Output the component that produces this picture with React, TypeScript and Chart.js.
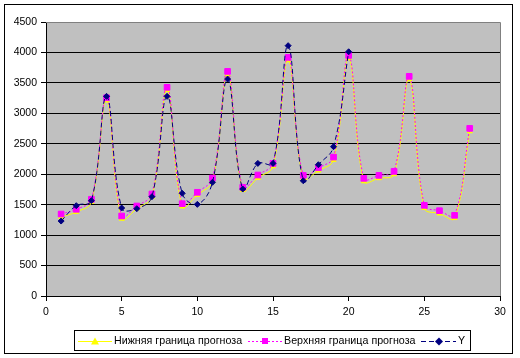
import { useEffect, useRef } from "react";
import { Chart, registerables } from "chart.js";

Chart.register(...registerables);

const xValues = [1, 2, 3, 4, 5, 6, 7, 8, 9, 10, 11, 12, 13, 14, 15, 16, 17, 18, 19, 20, 21, 22, 23, 24, 25, 26, 27, 28];
const lowerBound = [1300, 1380, 1545, 3210, 1270, 1435, 1630, 3380, 1470, 1660, 1890, 3640, 1740, 1940, 2130, 3870, 1935, 2060, 2235, 3905, 1885, 1935, 2000, 3560, 1445, 1355, 1280, 2705];
const upperBound = [1346, 1424, 1588, 3256, 1314, 1478, 1675, 3427, 1516, 1703, 1938, 3689, 1785, 1987, 2178, 3919, 1981, 2107, 2282, 3951, 1932, 1981, 2047, 3607, 1489, 1401, 1325, 2753];
const yValues = [1231, 1483, 1565, 3279, 1445, 1434, 1631, 3279, 1686, 1505, 1867, 3563, 1757, 2178, 2178, 4111, 1893, 2156, 2452, 4011];

const seriesNames = ["Нижняя граница прогноза", "Верхняя граница прогноза", "Y"];

const FONT = "'Liberation Sans', Arial, sans-serif";
const TENSION = 0.4;

const toPoints = (vals: number[]) => vals.map((v, i) => ({ x: xValues[i], y: v }));

const framePlugin = {
  id: "frame",
  beforeDraw(chart: any) {
    const { ctx, chartArea: a } = chart;
    ctx.save();
    ctx.fillStyle = "#ffffff";
    ctx.fillRect(0, 0, chart.width, chart.height);
    ctx.fillStyle = "#C0C0C0";
    ctx.fillRect(a.left, a.top, a.right - a.left, a.bottom - a.top);
    ctx.restore();
  },
  beforeDatasetsDraw(chart: any) {
    const { ctx, chartArea: a } = chart;
    ctx.save();
    ctx.strokeStyle = "#808080";
    ctx.lineWidth = 1;
    ctx.beginPath();
    ctx.moveTo(a.left, Math.round(a.top) + 0.5);
    ctx.lineTo(Math.round(a.right) + 0.5, Math.round(a.top) + 0.5);
    ctx.lineTo(Math.round(a.right) + 0.5, a.bottom);
    ctx.stroke();
    ctx.restore();
  },
  afterDraw(chart: any) {
    const { ctx } = chart;
    ctx.save();
    ctx.strokeStyle = "#000";
    ctx.lineWidth = 1;
    ctx.strokeRect(4.5, 4.5, 508, 349);
    // legend box
    ctx.strokeRect(74.5, 330.5, 396, 20);
    const ly = 341.5;
    ctx.font = `10.7px ${FONT}`;
    ctx.fillStyle = "#000";
    ctx.textBaseline = "middle";
    ctx.textAlign = "left";
    // item 1
    ctx.strokeStyle = "#FFFF00";
    ctx.setLineDash([]);
    ctx.beginPath();
    ctx.moveTo(78, ly);
    ctx.lineTo(112, ly);
    ctx.stroke();
    ctx.fillStyle = "#FFFF00";
    ctx.beginPath();
    ctx.moveTo(95, ly - 4);
    ctx.lineTo(99, ly + 3);
    ctx.lineTo(91, ly + 3);
    ctx.closePath();
    ctx.fill();
    ctx.fillStyle = "#000";
    ctx.fillText(seriesNames[0], 114, ly);
    // item 2
    ctx.strokeStyle = "#FF00FF";
    ctx.setLineDash([2, 2]);
    ctx.beginPath();
    ctx.moveTo(248, ly);
    ctx.lineTo(282, ly);
    ctx.stroke();
    ctx.setLineDash([]);
    ctx.fillStyle = "#FF00FF";
    ctx.fillRect(262, ly - 3.5, 6, 6);
    ctx.fillStyle = "#000";
    ctx.fillText(seriesNames[1], 284, ly);
    // item 3
    ctx.strokeStyle = "#000080";
    ctx.setLineDash([5, 3]);
    ctx.beginPath();
    ctx.moveTo(421, ly);
    ctx.lineTo(456, ly);
    ctx.stroke();
    ctx.setLineDash([]);
    ctx.fillStyle = "#000080";
    ctx.beginPath();
    ctx.moveTo(439, ly - 4);
    ctx.lineTo(443, ly);
    ctx.lineTo(439, ly + 4);
    ctx.lineTo(435, ly);
    ctx.closePath();
    ctx.fill();
    ctx.fillStyle = "#000";
    ctx.fillText(seriesNames[2], 458, ly);
    ctx.restore();
  },
};

export default function App() {
  const ref = useRef<HTMLCanvasElement>(null);
  useEffect(() => {
    const chart = new Chart(ref.current!, {
      type: "line",
      data: {
        datasets: [
          {
            label: seriesNames[0],
            data: toPoints(lowerBound),
            borderColor: "#FFFF00",
            backgroundColor: "#FFFF00",
            borderWidth: 1,
            pointStyle: "triangle",
            pointRadius: 3,
            pointBorderWidth: 1,
            tension: TENSION,
            order: 2,
          },
          {
            label: seriesNames[1],
            data: toPoints(upperBound),
            borderColor: "#FF00FF",
            backgroundColor: "#FF00FF",
            borderWidth: 1,
            borderDash: [2, 2],
            pointStyle: "rect",
            pointRadius: 4,
            pointBorderWidth: 1,
            tension: TENSION,
            order: 1,
          },
          {
            label: seriesNames[2],
            data: toPoints(yValues),
            borderColor: "#000080",
            backgroundColor: "#000080",
            borderWidth: 1,
            borderDash: [5, 3],
            pointStyle: "rectRot",
            pointRadius: 3,
            pointBorderWidth: 1,
            tension: TENSION,
            order: 0,
          },
        ],
      },
      options: {
        responsive: false,
        animation: false,
        layout: { padding: { left: 0, top: 22, right: 20, bottom: 42 } },
        plugins: {
          legend: { display: false },
          tooltip: { enabled: false },
          title: { display: false },
        },
        scales: {
          x: {
            type: "linear",
            min: 0,
            max: 30,
            afterFit: (s: any) => {
              s.height = 20;
            },
            ticks: {
              stepSize: 5,
              color: "#000",
              font: { family: FONT, size: 10.5 },
              padding: 5,
              maxRotation: 0,
              callback: (v: any) => String(v),
            },
            grid: {
              drawOnChartArea: false,
              drawTicks: true,
              tickLength: 5,
              tickColor: "#000",
            },
            border: { display: true, color: "#000", width: 1 },
          },
          y: {
            type: "linear",
            min: 0,
            max: 4500,
            afterFit: (s: any) => {
              s.width = 46;
            },
            ticks: {
              stepSize: 500,
              color: "#000",
              font: { family: FONT, size: 10.5 },
              padding: 4,
              callback: (v: any) => String(v),
            },
            grid: {
              color: (c: any) => (c.tick && c.tick.value === 4500 ? "rgba(0,0,0,0)" : "#000"),
              lineWidth: 1,
              drawTicks: true,
              tickLength: 5,
              tickColor: "#000",
            },
            border: { display: true, color: "#000", width: 1 },
          },
        },
      },
      plugins: [framePlugin],
    });
    return () => chart.destroy();
  }, []);
  return (
    <div style={{ position: "fixed", left: 0, top: 0, width: 520, height: 358, background: "#fff" }}>
      <canvas ref={ref} width={520} height={358} style={{ display: "block" }} />
    </div>
  );
}
